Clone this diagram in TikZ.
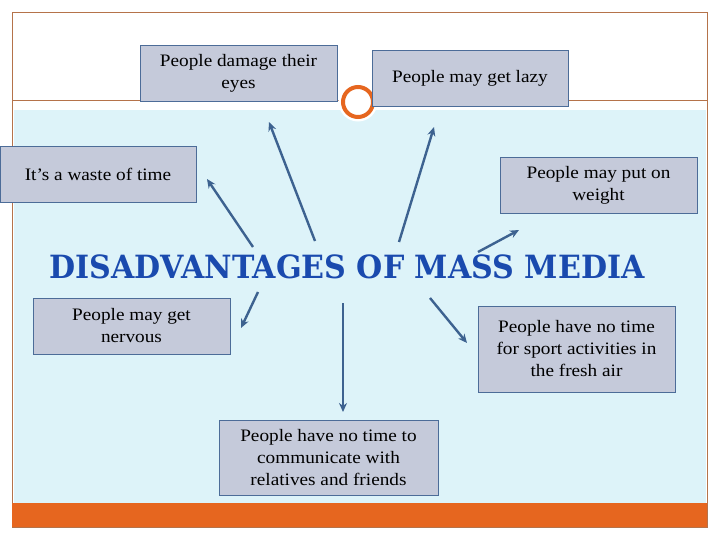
\documentclass[tikz,border=0pt]{standalone}
\usepackage{fontspec}
\setmainfont[FakeStretch=1.1]{Liberation Serif}
\newfontfamily\titlefont{DejaVu Serif}
\usetikzlibrary{arrows.meta}
\definecolor{slideframe}{HTML}{B5734A}
\definecolor{slidebar}{HTML}{E6661F}
\definecolor{slidesky}{HTML}{DDF3F9}
\definecolor{boxfill}{HTML}{C5CADA}
\definecolor{boxline}{HTML}{4C6C98}
\definecolor{spokeblue}{HTML}{3D6290}
\definecolor{titleblue}{HTML}{1A4AAE}

\begin{document}
\begin{tikzpicture}[x=1pt, y=-1pt,
  effect/.style={draw=boxline, line width=0.9pt, fill=boxfill, align=center, inner sep=0pt, font=\fontsize{17.5}{22}\selectfont},
  spoke/.style={draw=spokeblue, line width=2.4pt, -{Stealth[length=9pt,width=8pt]}}]
\useasboundingbox (0,0) rectangle (720,540);
\fill[white] (0,0) rectangle (720,540);
\fill[slidesky] (14,110) rectangle (706,503);
\draw[slideframe, line width=0.8pt] (12,12) rectangle (707,527);
\draw[slideframe, line width=0.8pt] (12,100) -- (707,100);
\fill[slidebar] (12,503) rectangle (707,527);
\filldraw[white, line width=9pt] (358,102) circle (15);
\draw[slidebar, line width=4pt] (358,102) circle (15);

\node[effect, minimum width=197, minimum height=56] (eyes)    at (238.5, 73) {People damage their\\eyes};
\node[effect, minimum width=196, minimum height=56] (lazy)    at (470, 78)   {People may get lazy};
\node[effect, minimum width=196, minimum height=56] (waste)   at (98, 174)   {It’s a waste of time};
\node[effect, minimum width=197, minimum height=56] (weight)  at (598.5, 185) {People may put on\\weight};
\node[effect, minimum width=197, minimum height=56] (nervous) at (131.5, 326) {People may get\\nervous};
\node[effect, minimum width=197, minimum height=86] (sport)   at (576.5, 349) {People have no time\\for sport activities in\\the fresh air};
\node[effect, minimum width=219, minimum height=75] (talk)    at (328.5, 457.5) {People have no time to\\communicate with\\relatives and friends};

\node[font=\titlefont\bfseries\fontsize{32}{32}\selectfont, text=titleblue] (title) at (347, 267) {\scalebox{0.94}[1]{DISADVANTAGES OF MASS MEDIA}};

\coordinate (wastefoot)   at (253, 247);  \coordinate (wastetip)   at (207, 179);
\coordinate (eyesfoot)    at (315, 241);  \coordinate (eyestip)    at (269, 122);
\coordinate (lazyfoot)    at (399, 242);  \coordinate (lazytip)    at (434, 127);
\coordinate (weightfoot)  at (478, 252);  \coordinate (weighttip)  at (519, 230);
\coordinate (nervousfoot) at (258, 292);  \coordinate (nervoustip) at (241, 328);
\coordinate (talkfoot)    at (343, 303);  \coordinate (talktip)    at (343, 412);
\coordinate (sportfoot)   at (430, 298);  \coordinate (sporttip)   at (467, 343);

\draw[spoke] (wastefoot) -- (wastetip);
\draw[spoke] (eyesfoot) -- (eyestip);
\draw[spoke] (lazyfoot) -- (lazytip);
\draw[spoke] (weightfoot) -- (weighttip);
\draw[spoke] (nervousfoot) -- (nervoustip);
\draw[spoke] (talkfoot) -- (talktip);
\draw[spoke] (sportfoot) -- (sporttip);
\end{tikzpicture}
\end{document}
